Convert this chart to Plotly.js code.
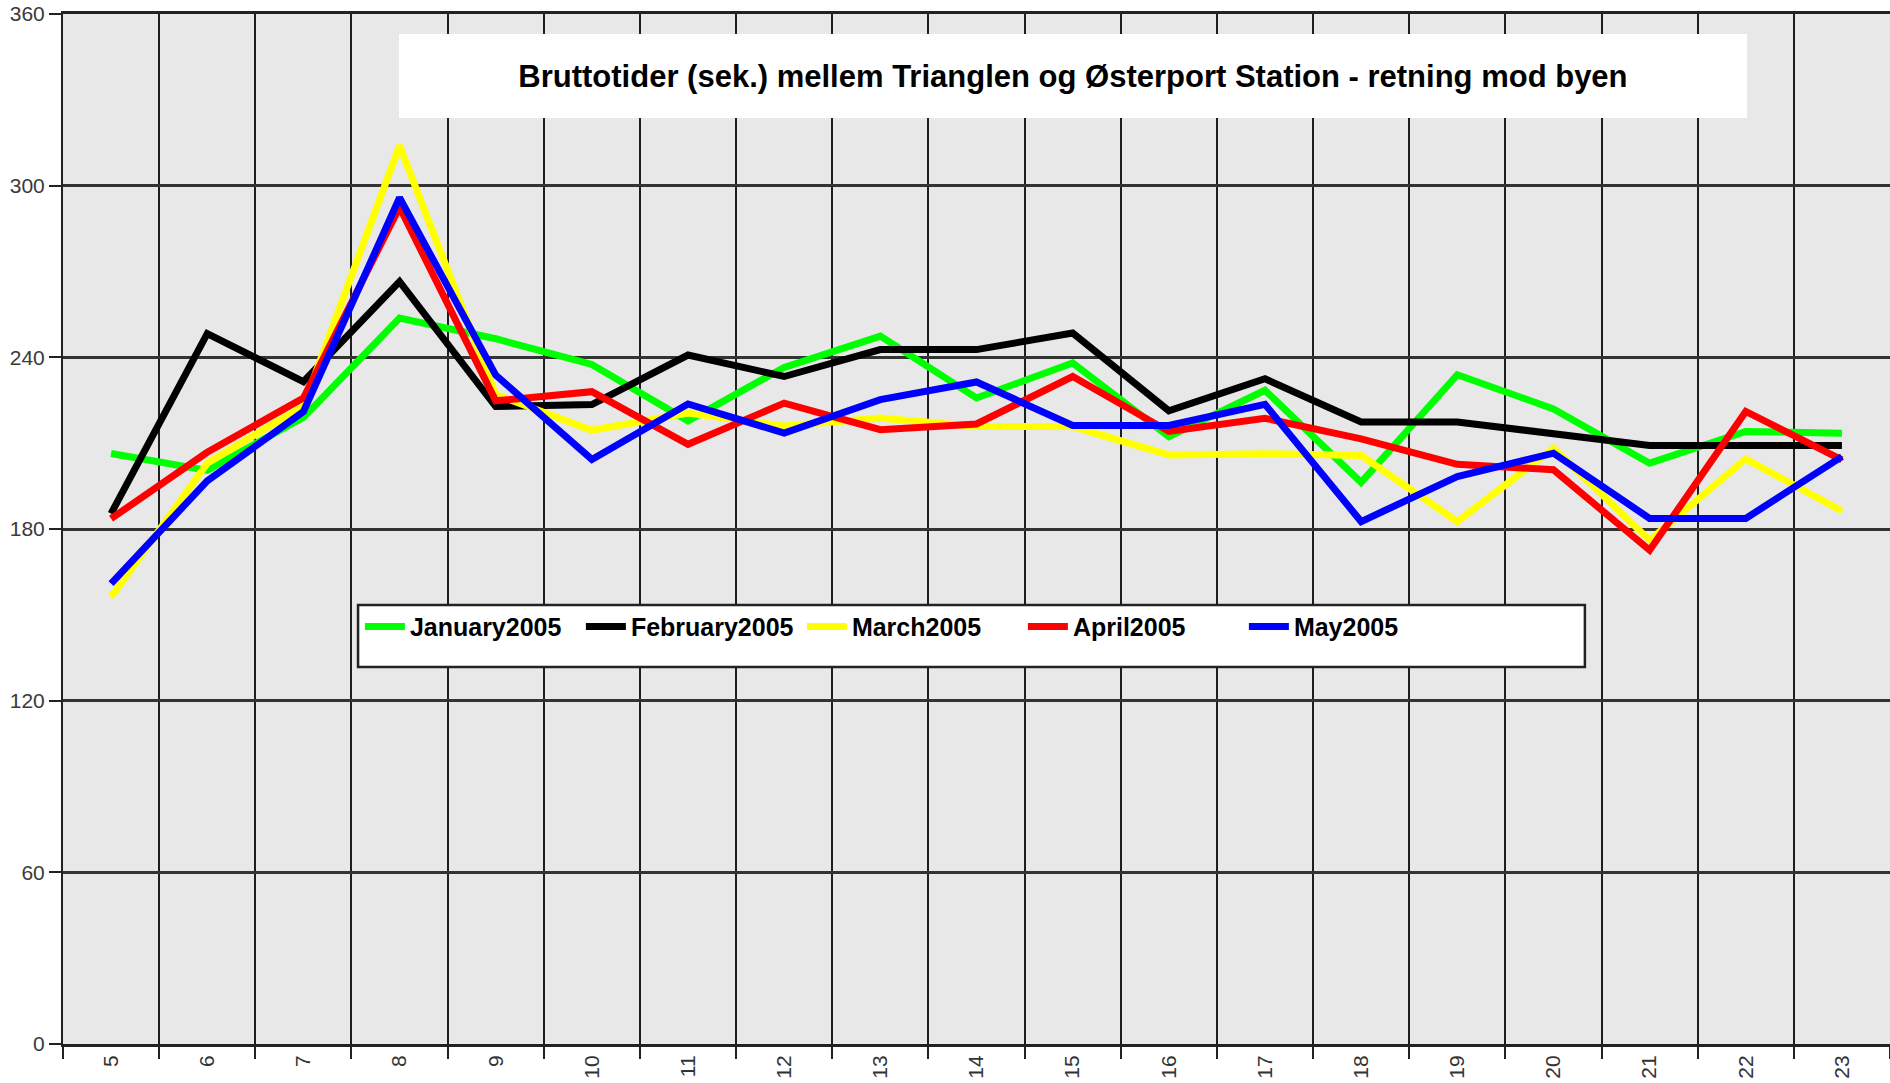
<!DOCTYPE html>
<html>
<head>
<meta charset="utf-8">
<script src="https://cdn.plot.ly/plotly-3.0.1.min.js"></script>
<style>
  html, body { margin: 0; padding: 0; background: #ffffff; }
  #chart { width: 1890px; height: 1083px; }
</style>
</head>
<body>
<div id="chart"></div>
<script>
// Hours of the day (category labels)
const hours = ['5','6','7','8','9','10','11','12','13','14','15','16','17','18','19','20','21','22','23'];

// Gross travel times (seconds) per month
const january2005  = [206.4, 200.5, 219.0, 253.7, 246.5, 237.5, 217.8, 236.5, 247.4, 225.8, 238.0, 212.3, 228.5, 196.3, 233.9, 222.0, 203.0, 214.1, 213.5];
const february2005 = [185.4, 248.3, 231.5, 266.5, 222.8, 223.5, 240.8, 233.3, 242.7, 242.7, 248.5, 221.3, 232.5, 217.4, 217.4, 213.5, 209.2, 209.2, 209.2];
const march2005    = [156.2, 203.0, 223.0, 314.0, 227.0, 214.5, 220.5, 216.0, 218.8, 215.8, 215.8, 205.9, 206.3, 205.7, 182.6, 208.2, 176.1, 204.5, 186.3];
const april2005    = [183.6, 206.8, 225.8, 292.5, 224.8, 228.0, 209.6, 224.0, 214.7, 216.7, 233.3, 214.1, 218.7, 211.5, 202.6, 200.7, 172.6, 221.1, 204.2];
const may2005      = [160.9, 196.8, 221.0, 295.8, 233.8, 204.3, 223.7, 213.5, 225.2, 231.4, 216.2, 216.2, 223.6, 182.6, 198.3, 206.5, 183.7, 183.7, 205.3];

const seriesNames  = ['January2005', 'February2005', 'March2005', 'April2005', 'May2005'];
const seriesValues = [january2005, february2005, march2005, april2005, may2005];
const seriesColors = ['#00ff00', '#000000', '#ffff00', '#ff0000', '#0000ff'];

const yTickVals = [0, 60, 120, 180, 240, 300, 360];

const titleText = 'Bruttotider (sek.) mellem Trianglen og Østerport Station - retning mod byen';

const traces = seriesNames.map((name, i) => ({
  type: 'scatter',
  mode: 'lines',
  name: name,
  x: hours,
  y: seriesValues[i],
  line: { color: seriesColors[i], width: 7 },
  hoverinfo: 'x+y+name'
}));

const FONT = 'Liberation Sans, Arial, sans-serif';

const layout = {
  width: 1890,
  height: 1083,
  margin: { l: 63, r: 0, t: 14, b: 39 },
  paper_bgcolor: '#ffffff',
  plot_bgcolor: '#e8e8e8',
  showlegend: true,
  title: {
    text: titleText,
    font: { family: FONT, size: 31, color: '#000000', weight: 'bold' },
    x: 0.5677, xref: 'container', xanchor: 'center',
    y: 0.9298, yref: 'container', yanchor: 'middle'
  },
  xaxis: {
    type: 'category',
    categoryorder: 'array',
    categoryarray: hours,
    range: [-0.5, 18.5],
    tickson: 'boundaries',
    ticks: 'outside',
    ticklen: 12,
    tickwidth: 2,
    tickcolor: '#222222',
    tickangle: -90,
    tickfont: { family: FONT, size: 21, color: '#333333' },
    showgrid: true,
    gridcolor: '#1e1e1e',
    gridwidth: 2,
    showline: true,
    linecolor: '#222222',
    linewidth: 3,
    mirror: true,
    zeroline: false,
    fixedrange: true
  },
  yaxis: {
    range: [0, 360],
    tickmode: 'array',
    tickvals: yTickVals,
    ticktext: yTickVals.map(String),
    ticks: 'outside',
    ticklen: 12,
    tickwidth: 2,
    tickcolor: '#222222',
    tickfont: { family: FONT, size: 21, color: '#3a3a3a' },
    showgrid: true,
    gridcolor: '#333333',
    gridwidth: 3,
    showline: true,
    linecolor: '#222222',
    linewidth: 2,
    zeroline: false,
    fixedrange: true
  },
  legend: {
    orientation: 'h',
    x: 0.1625, xref: 'paper', xanchor: 'left',
    y: 0.405, yref: 'paper', yanchor: 'middle',
    bgcolor: 'rgba(0,0,0,0)',
    borderwidth: 0,
    itemwidth: 40,
    entrywidth: 166,
    entrywidthmode: 'pixels',
    font: { family: FONT, size: 25, color: '#000000', weight: 'bold' },
    itemclick: false,
    itemdoubleclick: false
  },
  shapes: [
    {
      type: 'rect', xref: 'paper', yref: 'paper', layer: 'above',
      x0: 0.1839, x1: 0.9217, y0: 0.899, y1: 0.9806,
      fillcolor: '#ffffff', line: { width: 0 }
    },
    {
      type: 'rect', xref: 'paper', yref: 'paper', layer: 'above',
      x0: 0.1615, x1: 0.833, y0: 0.366, y1: 0.4262,
      fillcolor: '#ffffff', line: { color: '#222222', width: 2.5 }
    }
  ]
};

Plotly.newPlot('chart', traces, layout, { displayModeBar: false, responsive: false, staticPlot: false });
</script>
</body>
</html>
